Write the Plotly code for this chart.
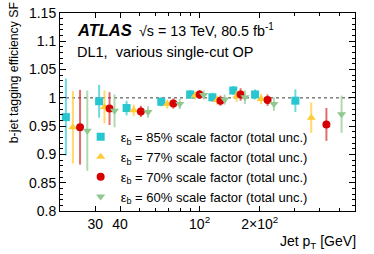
import plotly.graph_objects as go

# ---- data ----
pt85 = [21.4, 31.4, 43.1, 64.3, 89.7, 115.9, 147.4, 189.6, 301.7]
sf85 = [0.966, 0.994, 0.982, 0.993, 1.006, 1.001, 1.013, 1.006, 0.995]
er85 = [0.068, 0.029, 0.013, 0.008, 0.008, 0.008, 0.008, 0.009, 0.020]

pt77 = [23.2, 33.4, 46.8, 68.9, 95.0, 122.4, 153.2, 203.3, 362.4]
sf77 = [0.948, 0.984, 0.978, 0.989, 1.004, 0.996, 1.003, 0.998, 0.965]
er77 = [0.064, 0.029, 0.010, 0.008, 0.007, 0.008, 0.010, 0.009, 0.027]

pt70 = [25.2, 35.4, 50.8, 73.9, 100.0, 127.2, 160.5, 219.0, 431.5]
sf70 = [0.948, 0.981, 0.976, 0.990, 1.006, 0.995, 1.006, 0.996, 0.953]
er70 = [0.066, 0.029, 0.010, 0.009, 0.008, 0.009, 0.011, 0.010, 0.029]

pt60 = [27.4, 37.5, 55.2, 79.6, 104.8, 133.6, 168.7, 235.6, 514.0]
sf60 = [0.942, 0.977, 0.975, 0.989, 1.005, 0.997, 1.001, 0.989, 0.971]
er60 = [0.071, 0.029, 0.010, 0.009, 0.008, 0.009, 0.012, 0.012, 0.033]

labels = ["85", "77", "70", "60"]
x_tickvals = [30, 40, 100, 200]
x_ticktext = ["30", "40", "10<sup>2</sup>", "2×10<sup>2</sup>"]
x_minor = [50, 60, 70, 80, 90, 300, 400, 500]

FONT = "Liberation Sans, Arial, sans-serif"

series = [
    (pt85, sf85, er85, "square", "rgb(40,198,208)", "rgba(60,205,212,0.75)"),
    (pt77, sf77, er77, "triangle-up", "rgb(255,204,55)", "rgba(255,204,55,0.75)"),
    (pt70, sf70, er70, "circle", "rgb(215,0,0)", "rgba(210,30,30,0.65)"),
    (pt60, sf60, er60, "triangle-down", "rgb(145,200,145)", "rgba(150,205,150,0.75)"),
]

fig = go.Figure()
for (x, y, e, sym, col, ecol), lab in zip(series, labels):
    fig.add_trace(go.Scatter(
        x=x, y=y, mode="markers",
        marker=dict(symbol=sym, size=8, color=col, line=dict(width=0)),
        error_y=dict(type="data", array=e, color=ecol, thickness=2, width=0),
        name=f"ε<sub>b</sub> = {lab}% scale factor (total unc.)",
    ))

fig.add_shape(type="line", xref="paper", x0=0, x1=1, yref="y", y0=1, y1=1,
              line=dict(color="rgb(60,60,60)", width=1, dash="dot"), layer="below")

fig.update_layout(
    width=374, height=254,
    margin=dict(l=60, r=19, t=13, b=43, autoexpand=False),
    paper_bgcolor="white", plot_bgcolor="white",
    font=dict(family=FONT, size=14, color="black"),
    showlegend=True,
    legend=dict(x=0.07, y=0.45, xanchor="left", yanchor="top",
                bgcolor="rgba(0,0,0,0)", font=dict(size=13),
                itemwidth=30, tracegroupgap=0),
    xaxis=dict(type="log", range=[1.30103, 2.778151], automargin=False,
               tickvals=x_tickvals, ticktext=x_ticktext,
               ticks="inside", ticklen=5, tickcolor="black",
               showline=True, linecolor="black", linewidth=1, mirror="allticks",
               showgrid=False, zeroline=False,
               tickfont=dict(size=14),
               minor=dict(tickvals=x_minor, ticks="inside", ticklen=3, tickcolor="black", showgrid=False)),
    yaxis=dict(range=[0.8, 1.15], tick0=0.8, dtick=0.05, automargin=False,
               ticks="inside", ticklen=6, tickcolor="black",
               showline=True, linecolor="black", linewidth=1, mirror="allticks",
               showgrid=False, zeroline=False,
               tickfont=dict(size=14),
               minor=dict(dtick=0.01, ticks="inside", ticklen=3, tickcolor="black", showgrid=False)),
)

fig.add_annotation(text="Jet p<sub>T</sub> [GeV]", xref="paper", yref="paper",
                   x=1.01, y=-0.10, xanchor="right", yanchor="top",
                   showarrow=False, font=dict(size=14))
fig.add_annotation(text="b-jet tagging efficiency SF", xref="paper", yref="paper",
                   x=-0.153, y=0.70, xanchor="center", yanchor="middle", textangle=-90,
                   showarrow=False, font=dict(size=12.3))
fig.add_annotation(text="<b><i>ATLAS</i></b>", xref="paper", yref="paper",
                   x=0.05, y=0.915, xanchor="left", yanchor="middle",
                   showarrow=False, font=dict(size=16.5))
fig.add_annotation(text="√s = 13 TeV, 80.5 fb<sup>-1</sup>", xref="paper", yref="paper",
                   x=0.262, y=0.915, xanchor="left", yanchor="middle",
                   showarrow=False, font=dict(size=14.3))
fig.add_annotation(text="DL1,  various single-cut OP", xref="paper", yref="paper",
                   x=0.05, y=0.805, xanchor="left", yanchor="middle",
                   showarrow=False, font=dict(size=14.5))

fig.write_html("out.html", config={"displayModeBar": False},
               post_script="document.body.style.margin='0';document.body.style.padding='0';")
